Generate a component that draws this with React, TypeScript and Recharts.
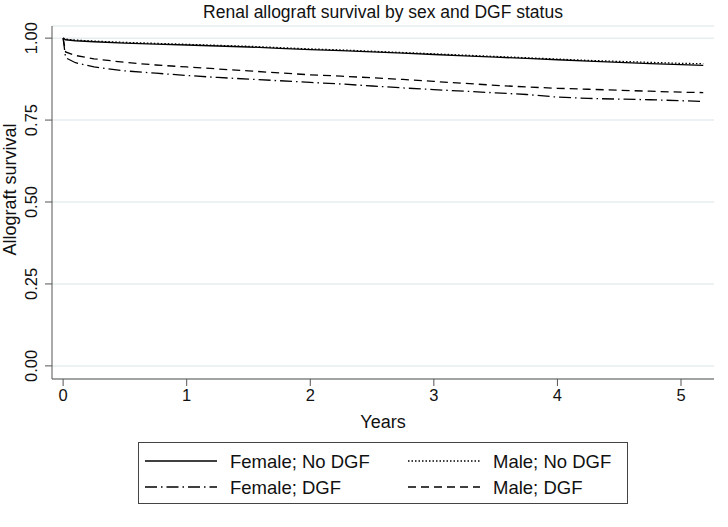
import { LineChart, Line, XAxis, YAxis, CartesianGrid, Label } from "recharts";

// follow-up time in years
const years = [0, 0.02, 0.1, 0.25, 0.5, 0.75, 1, 1.25, 1.5, 1.75, 2, 2.25, 2.5, 2.75, 3, 3.25, 3.5, 3.75, 4, 4.25, 4.5, 4.75, 5, 5.18];

// Kaplan-Meier estimates
const femaleNoDgf = [1.0, 0.995, 0.992, 0.989, 0.985, 0.982, 0.979, 0.976, 0.973, 0.969, 0.965, 0.962, 0.958, 0.954, 0.95, 0.946, 0.942, 0.938, 0.934, 0.93, 0.926, 0.922, 0.919, 0.917];
const maleNoDgf = [1.0, 0.997, 0.994, 0.991, 0.987, 0.984, 0.981, 0.978, 0.975, 0.971, 0.967, 0.964, 0.96, 0.956, 0.952, 0.948, 0.944, 0.94, 0.936, 0.932, 0.929, 0.926, 0.923, 0.922];
const femaleDgf = [1.0, 0.94, 0.925, 0.912, 0.9, 0.893, 0.886, 0.88, 0.875, 0.87, 0.865, 0.86, 0.854, 0.848, 0.843, 0.838, 0.833, 0.828, 0.82, 0.816, 0.814, 0.812, 0.809, 0.807];
const maleDgf = [1.0, 0.958, 0.947, 0.937, 0.926, 0.918, 0.912, 0.906, 0.9, 0.894, 0.888, 0.884, 0.879, 0.874, 0.868, 0.862, 0.856, 0.851, 0.847, 0.844, 0.841, 0.838, 0.835, 0.834];

const xTicks = [0, 1, 2, 3, 4, 5];
const yTicks = [0, 0.25, 0.5, 0.75, 1];

const series = [
  { key: "femaleNoDgf", name: "Female; No DGF", dash: undefined },
  { key: "maleNoDgf", name: "Male; No DGF", dash: "1.5 2" },
  { key: "femaleDgf", name: "Female; DGF", dash: "12 4 1.5 4" },
  { key: "maleDgf", name: "Male; DGF", dash: "8 5" },
];

const data = years.map((t, i) => ({
  t,
  femaleNoDgf: femaleNoDgf[i],
  maleNoDgf: maleNoDgf[i],
  femaleDgf: femaleDgf[i],
  maleDgf: maleDgf[i],
}));

const FONT = '"Liberation Sans", Arial, Helvetica, sans-serif';
const AXIS = "#555";

function YTick(props: any) {
  const { x, y, payload } = props;
  const tx = x - 2;
  return (
    <text
      x={tx}
      y={y}
      transform={`rotate(-90, ${tx}, ${y})`}
      textAnchor="middle"
      fontSize={16.5}
      fontFamily={FONT}
      fill="#111"
    >
      {payload.value.toFixed(2)}
    </text>
  );
}

function ChartLegend() {
  return (
    <svg
      width={490}
      height={62}
      style={{ position: "absolute", left: 138, top: 442 }}
    >
      <rect x={0.5} y={0.5} width={489} height={61} fill="#fff" stroke="#444" strokeWidth={1} />
      {series.map((s, i) => {
        const col = i % 2;
        const row = Math.floor(i / 2);
        const lx = col === 0 ? 7 : 270;
        const cy = row === 0 ? 19 : 45;
        return (
          <g key={s.key}>
            <line x1={lx} x2={lx + 72} y1={cy} y2={cy} stroke="#000" strokeWidth={1.3} strokeDasharray={s.dash} />
            <text x={lx + 85} y={cy + 6.5} fontSize={18.5} fontFamily={FONT} fill="#111">
              {s.name}
            </text>
          </g>
        );
      })}
    </svg>
  );
}

export default function App() {
  return (
    <div style={{ position: "absolute", left: 0, top: 0, width: 728, height: 527, background: "#fff", fontFamily: FONT }}>
      <div
        style={{
          position: "absolute",
          left: 52,
          width: 662,
          top: 2,
          textAlign: "center",
          fontSize: 17.5,
          color: "#111",
        }}
      >
        Renal allograft survival by sex and DGF status
      </div>
      <LineChart
        width={728}
        height={527}
        data={data}
        margin={{ top: 26, right: 14, left: 0, bottom: 88 }}
      >
        <CartesianGrid vertical={false} stroke="#e6eef0" strokeWidth={1.5} />
        <XAxis
          dataKey="t"
          type="number"
          domain={[-0.09, 5.267]}
          ticks={xTicks}
          allowDataOverflow
          height={60}
          tickSize={7}
          tickMargin={3}
          stroke={AXIS}
          tick={{ fill: "#111", fontSize: 16.5, fontFamily: FONT }}
          tickLine={{ stroke: AXIS }}
        >
          <Label
            content={({ viewBox }: any) => (
              <text
                x={viewBox.x + viewBox.width / 2}
                y={viewBox.y + 49}
                textAnchor="middle"
                fontSize={18}
                fontFamily={FONT}
                fill="#111"
              >
                Years
              </text>
            )}
          />
        </XAxis>
        <YAxis
          type="number"
          domain={[-0.04, 1.037]}
          ticks={yTicks}
          allowDataOverflow
          width={52}
          tickSize={7}
          tickMargin={6}
          stroke={AXIS}
          tick={<YTick />}
          tickLine={{ stroke: AXIS }}
        >
          <Label
            content={({ viewBox }: any) => {
              const cx = 16;
              const cy = viewBox.y + viewBox.height / 2 - 13;
              return (
                <text
                  x={cx}
                  y={cy}
                  transform={`rotate(-90, ${cx}, ${cy})`}
                  textAnchor="middle"
                  fontSize={18}
                  fontFamily={FONT}
                  fill="#111"
                >
                  Allograft survival
                </text>
              );
            }}
          />
        </YAxis>
        {series.map((s) => (
          <Line
            key={s.key}
            dataKey={s.key}
            name={s.name}
            type="linear"
            stroke="#000"
            strokeWidth={1.3}
            strokeDasharray={s.dash}
            dot={false}
            activeDot={false}
            isAnimationActive={false}
          />
        ))}
      </LineChart>
      <ChartLegend />
    </div>
  );
}
